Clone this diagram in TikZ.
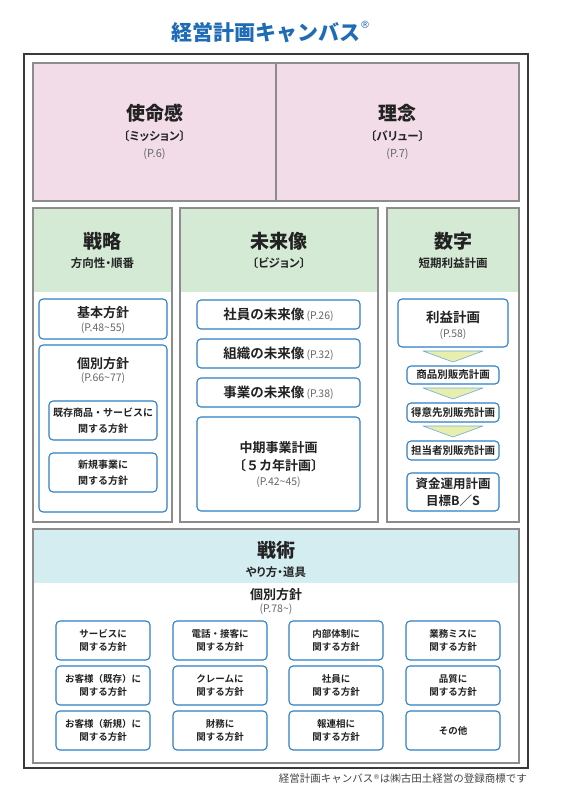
\documentclass[tikz,border=0pt]{standalone}
\usepackage{fontspec}
\setmainfont{Noto Sans CJK JP}[BoldFont={* Bold}]
\newfontfamily\jpp{Noto Sans CJK JP}[BoldFont={* Bold},RawFeature=+palt]
\newfontfamily\jpblack{Noto Sans CJK JP Black}
\newfontfamily\dvs{DejaVu Sans}
\newcommand\myfs[1]{\fontsize{#1}{#1}\selectfont}
\definecolor{pinkf}{HTML}{F2DCE8}
\definecolor{greenf}{HTML}{D4EAD5}
\definecolor{cyanf}{HTML}{D3EDF1}
\definecolor{secgray}{HTML}{8C8C8C}
\definecolor{framec}{HTML}{3A3A3A}
\definecolor{boxblue}{HTML}{2E7FC4}
\definecolor{titleblue}{HTML}{1F6CB6}
\definecolor{txt}{HTML}{222222}
\definecolor{refgray}{HTML}{666666}
\definecolor{footc}{HTML}{444444}
\definecolor{triy}{HTML}{E8EEAE}
\definecolor{trib}{HTML}{6FAADC}
\begin{document}
\begin{tikzpicture}[x=1pt,y=-1pt,
  sect/.style={draw=secgray,line width=1.4pt,inner sep=0pt},
  bbox/.style={draw=boxblue,line width=1.1pt,rounded corners=4pt,fill=white,inner sep=0pt,align=center,text=txt},
  lbl/.style={inner sep=0pt,text=txt,align=center},
  pref/.style={inner sep=0pt,text=refgray,font=\myfs{10.5}},
  big/.style={lbl,font=\jpblack\myfs{19}},
  sub/.style={lbl,font=\jpp\bfseries\myfs{11.5}},
  gbox/.style={bbox,minimum width=94pt,minimum height=39pt,font=\bfseries\fontsize{9.5}{12.5}\selectfont},
  tri/.style={fill=triy,draw=trib,line width=0.6pt,line join=round}]
\fill[white] (0,0) rectangle (563,802);
\useasboundingbox (0,0) rectangle (563,802);

% title
\node[anchor=west,inner sep=0pt,text=titleblue,font=\jpblack\myfs{21}] (title) at (171,32) {経営計画キャンバス\raisebox{0.55em}{\dvs\myfs{10}®}};

% frame
\node[draw=framec,line width=2pt,minimum width=504pt,minimum height=714pt,inner sep=0pt] (frame) at (276,411) {};

% mission / value
\node[sect,fill=pinkf,minimum width=243pt,minimum height=138pt] (mission) at (154.5,132) {};
\node[sect,fill=pinkf,minimum width=243pt,minimum height=138pt] (value) at (397.5,132) {};
\node[big] (missionT) at (154.5,113) {使命感};
\node[sub] (missionS) at (154.5,136) {〔ミッション〕};
\node[pref,font=\myfs{11}] (missionP) at (154.5,154) {(P.6)};
\node[big] (valueT) at (397.5,113) {理念};
\node[sub] (valueS) at (397.5,136) {〔バリュー〕};
\node[pref,font=\myfs{11}] (valueP) at (397.5,154) {(P.7)};

% columns
\fill[greenf] (33,208) rectangle (172,292);
\fill[greenf] (180,208) rectangle (378,292);
\fill[greenf] (387,208) rectangle (519,292);
\node[sect,minimum width=139pt,minimum height=314pt] (colL) at (102.5,365) {};
\node[sect,minimum width=198pt,minimum height=314pt] (colM) at (279,365) {};
\node[sect,minimum width=132pt,minimum height=314pt] (colR) at (453,365) {};

\node[big] (senryaku) at (102.5,241) {戦略};
\node[sub] (senryakuS) at (102.5,263) {方向性・順番};
\node[big] (mirai) at (279,241) {未来像};
\node[sub] (miraiS) at (279,263) {〔ビジョン〕};
\node[big] (suji) at (453,241) {数字};
\node[sub] (sujiS) at (453,263) {短期利益計画};

% left column boxes
\node[bbox,minimum width=128pt,minimum height=40pt] (kihon) at (103,319) {};
\node[lbl,font=\bfseries\myfs{13}] (kihonT) at (103,313) {基本方針};
\node[pref] (kihonP) at (103,328) {(P.48\textasciitilde55)};
\node[bbox,minimum width=128pt,minimum height=167pt] (kobetsu) at (103,428.5) {};
\node[lbl,font=\bfseries\myfs{13}] (kobetsuT) at (103,364) {個別方針};
\node[pref] (kobetsuP) at (103,378) {(P.66\textasciitilde77)};
\node[bbox,minimum width=108pt,minimum height=39pt,font=\bfseries\fontsize{10}{15.5}\selectfont] (kizon) at (103,420.5) {既存商品・サービスに\\関する方針};
\node[bbox,minimum width=108pt,minimum height=39pt,font=\bfseries\fontsize{10}{15.5}\selectfont] (shinki) at (103,472.5) {新規事業に\\関する方針};

% middle column boxes
\node[bbox,minimum width=163pt,minimum height=29pt] (shain) at (278.5,314.5) {\bfseries\myfs{13.5}社員の未来像\,{\mdseries\color{refgray}\myfs{10.5}(P.26)}};
\node[bbox,minimum width=163pt,minimum height=29pt] (soshiki) at (278.5,353.5) {\bfseries\myfs{13.5}組織の未来像\,{\mdseries\color{refgray}\myfs{10.5}(P.32)}};
\node[bbox,minimum width=163pt,minimum height=29pt] (jigyo) at (278.5,392.5) {\bfseries\myfs{13.5}事業の未来像\,{\mdseries\color{refgray}\myfs{10.5}(P.38)}};
\node[bbox,minimum width=163pt,minimum height=94pt] (chuki) at (278.5,464) {};
\node[lbl,font=\bfseries\myfs{13}] (chukiT) at (278.5,448) {中期事業計画};
\node[lbl,font=\bfseries\myfs{13}] (chukiS) at (278.5,466) {〔５カ年計画〕};
\node[pref] (chukiP) at (278.5,482) {(P.42\textasciitilde45)};

% right column boxes
\node[bbox,minimum width=110pt,minimum height=48pt] (rieki) at (453,323) {};
\node[lbl,font=\bfseries\myfs{13.5}] (riekiT) at (453,317) {利益計画};
\node[pref] (riekiP) at (453,334) {(P.58)};
\filldraw[tri] (423,351) -- (483,351) -- (453,362) -- cycle;
\node[bbox,minimum width=92pt,minimum height=18pt,font=\bfseries\myfs{10.5}] (shohin) at (453,375) {商品別販売計画};
\filldraw[tri] (423,388) -- (483,388) -- (453,399) -- cycle;
\node[bbox,minimum width=92pt,minimum height=19pt,font=\bfseries\myfs{10.5}] (tokui) at (453,412.5) {得意先別販売計画};
\filldraw[tri] (423,426) -- (483,426) -- (453,437) -- cycle;
\node[bbox,minimum width=92pt,minimum height=19pt,font=\bfseries\myfs{10.5}] (tanto) at (453,450.5) {担当者別販売計画};
\node[bbox,minimum width=92pt,minimum height=38pt,font=\bfseries\fontsize{12.5}{17}\selectfont] (shikin) at (453,492) {資金運用計画\\目標B／S};

% bottom section
\fill[cyanf] (33,529) rectangle (519,583);
\node[sect,minimum width=486pt,minimum height=234pt] (senjutsuBox) at (276,646) {};
\node[big] (senjutsu) at (276,550) {戦術};
\node[sub] (senjutsuS) at (276,572) {やり方・道具};
\node[lbl,font=\bfseries\myfs{13}] (kobetsu2) at (276,595) {個別方針};
\node[pref] (kobetsu2P) at (276,609) {(P.78\textasciitilde)};

\node[gbox] (g11) at (103,640.5) {サービスに\\関する方針};
\node[gbox] (g12) at (220,640.5) {電話・接客に\\関する方針};
\node[gbox] (g13) at (336,640.5) {内部体制に\\関する方針};
\node[gbox] (g14) at (453,640.5) {業務ミスに\\関する方針};
\node[gbox] (g21) at (103,685.5) {お客様（既存）に\\関する方針};
\node[gbox] (g22) at (220,685.5) {クレームに\\関する方針};
\node[gbox] (g23) at (336,685.5) {社員に\\関する方針};
\node[gbox] (g24) at (453,685.5) {品質に\\関する方針};
\node[gbox] (g31) at (103,730.5) {お客様（新規）に\\関する方針};
\node[gbox] (g32) at (220,730.5) {財務に\\関する方針};
\node[gbox] (g33) at (336,730.5) {報連相に\\関する方針};
\node[gbox] (g34) at (453,730.5) {その他};

% footer
\node[anchor=east,inner sep=0pt,text=footc,font=\myfs{10.5}] (footer) at (527,779) {経営計画キャンバス\raisebox{0.35em}{\dvs\myfs{6.5}®}は㈱古田土経営の登録商標です};
\end{tikzpicture}
\end{document}
